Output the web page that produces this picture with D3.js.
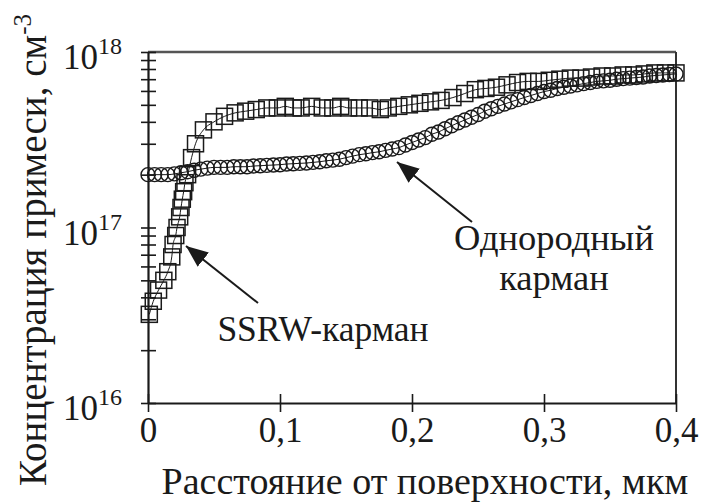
<!DOCTYPE html>
<html>
<head>
<meta charset="utf-8">
<script src="https://cdn.jsdelivr.net/npm/d3@7"></script>
<style>
  body { margin: 0; background: #fff; }
</style>
</head>
<body>
<div class="main"></div>
<script>
// SSRW pocket (squares), x in um, concentration in cm^-3
const ssrwX = [0.001, 0.004, 0.008, 0.012, 0.015, 0.018, 0.019, 0.021, 0.022, 0.024, 0.025, 0.026, 0.027, 0.028, 0.030,
  0.033, 0.036, 0.042, 0.050, 0.058, 0.066, 0.074, 0.082, 0.090, 0.098, 0.104, 0.110, 0.116, 0.124, 0.132, 0.140,
  0.146, 0.152, 0.160, 0.168, 0.176, 0.182, 0.190, 0.198, 0.206, 0.214, 0.222, 0.231, 0.240, 0.248, 0.256, 0.264,
  0.272, 0.280, 0.288, 0.296, 0.304, 0.312, 0.320, 0.328, 0.336, 0.344, 0.352, 0.360, 0.368, 0.376, 0.384, 0.392, 0.400];
const ssrwN = [0.32, 0.38, 0.44, 0.50, 0.56, 0.68, 0.80, 0.90, 1.0, 1.15, 1.3, 1.45, 1.6, 1.8, 2.0,
  2.5, 3.0, 3.6, 4.0, 4.3, 4.5, 4.6, 4.7, 4.8, 4.8, 4.9, 4.8, 4.8, 4.9, 4.8, 4.8,
  4.9, 4.8, 4.8, 4.8, 4.7, 4.8, 4.9, 5.0, 5.1, 5.2, 5.3, 5.5, 5.8, 6.1, 6.2, 6.3,
  6.5, 6.7, 6.8, 6.8, 6.9, 7.0, 7.1, 7.1, 7.2, 7.3, 7.3, 7.4, 7.4, 7.5, 7.6, 7.6, 7.6].map(v => v * 1e17);

// uniform pocket (circles)
const uniX = [0, 0.005, 0.010, 0.015, 0.020, 0.025, 0.030, 0.035, 0.040, 0.045, 0.050, 0.055, 0.060, 0.065, 0.070,
  0.075, 0.080, 0.085, 0.090, 0.095, 0.100, 0.105, 0.110, 0.115, 0.120, 0.125, 0.130, 0.135, 0.140, 0.145, 0.150,
  0.155, 0.160, 0.165, 0.170, 0.175, 0.180, 0.185, 0.190, 0.195, 0.200, 0.205, 0.210, 0.215, 0.220, 0.225, 0.230,
  0.235, 0.240, 0.245, 0.250, 0.255, 0.260, 0.265, 0.270, 0.275, 0.280, 0.285, 0.290, 0.295, 0.300, 0.305, 0.310,
  0.315, 0.320, 0.325, 0.330, 0.335, 0.340, 0.345, 0.350, 0.355, 0.360, 0.365, 0.370, 0.375, 0.380, 0.385, 0.390,
  0.395, 0.400];
const uniN = [2.0, 2.0, 2.0, 2.0, 2.02, 2.05, 2.08, 2.12, 2.15, 2.18, 2.2, 2.2, 2.2, 2.22, 2.22,
  2.22, 2.24, 2.25, 2.26, 2.27, 2.28, 2.3, 2.31, 2.32, 2.33, 2.35, 2.37, 2.4, 2.42, 2.45, 2.5,
  2.55, 2.6, 2.63, 2.67, 2.7, 2.75, 2.8, 2.85, 2.95, 3.05, 3.15, 3.25, 3.4, 3.5, 3.65, 3.8,
  3.95, 4.1, 4.25, 4.4, 4.6, 4.75, 4.9, 5.05, 5.2, 5.35, 5.5, 5.65, 5.8, 5.95, 6.05, 6.2,
  6.3, 6.4, 6.5, 6.6, 6.7, 6.8, 6.85, 6.9, 7.0, 7.05, 7.1, 7.15, 7.2, 7.3, 7.35, 7.4,
  7.45, 7.5].map(v => v * 1e17);

const xTicks = [0, 0.1, 0.2, 0.3, 0.4];
const xTickLabels = ["0", "0,1", "0,2", "0,3", "0,4"];
const yMajor = [1e16, 1e17, 1e18];
const yExponents = ["16", "17", "18"];

const xTitle = "Расстояние от поверхности, мкм";
const yTitle = "Концентрация примеси, см";
const labelSSRW = "SSRW-карман";
const labelUni = ["Однородный", "карман"];

// layout
const W = 701, H = 504;
const plot = { left: 148, right: 676, top: 52, bottom: 403 };
const ink = "#1a1a1a";
const serif = "Liberation Serif";

const x = d3.scaleLinear().domain([0, 0.4]).range([plot.left, plot.right]);
const y = d3.scaleLog().domain([1e16, 1e18]).range([plot.bottom, plot.top]);

const svg = d3.select(".main").append("svg")
    .attr("width", W)
    .attr("height", H);

// frame: top and right
svg.append("line")
    .attr("x1", plot.left).attr("x2", plot.right)
    .attr("y1", plot.top).attr("y2", plot.top)
    .attr("stroke", "#555").attr("stroke-width", 2.5);
svg.append("line")
    .attr("x1", plot.right).attr("x2", plot.right)
    .attr("y1", plot.top).attr("y2", plot.bottom)
    .attr("stroke", "#333").attr("stroke-width", 2);

// x axis, ticks crossing the line
const xAxis = d3.axisBottom(x).tickValues(xTicks).tickSize(0).tickFormat("");
const gx = svg.append("g")
    .attr("transform", "translate(0," + plot.bottom + ")")
    .call(xAxis);
gx.select(".domain").attr("stroke", ink).attr("stroke-width", 2.2);
gx.selectAll(".tick").append("line")
    .attr("y1", -9).attr("y2", 9)
    .attr("stroke", ink).attr("stroke-width", 1.6);
gx.selectAll(".tick").append("text")
    .attr("y", 39)
    .attr("text-anchor", "middle")
    .style("font-family", serif)
    .style("font-size", "35px")
    .attr("fill", ink)
    .text((d, i) => xTickLabels[i]);

// y axis, log ticks crossing the line
const yTickVals = y.ticks();
const yAxis = d3.axisLeft(y).tickValues(yTickVals).tickSize(0).tickFormat("");
const gy = svg.append("g")
    .attr("transform", "translate(" + plot.left + ",0)")
    .call(yAxis);
gy.select(".domain").attr("stroke", ink).attr("stroke-width", 2.2);
gy.selectAll(".tick line").remove();
gy.selectAll(".tick").append("line")
    .attr("x1", -7).attr("x2", 8)
    .attr("stroke", ink).attr("stroke-width", 1.6);

// y tick labels 10^n
const yLab = svg.append("g").selectAll("text").data(yMajor).enter().append("text")
    .attr("x", 122)
    .attr("y", d => y(d) + 17)
    .attr("text-anchor", "end")
    .style("font-family", serif)
    .style("font-size", "35px")
    .attr("fill", ink);
yLab.append("tspan").text("10");
yLab.append("tspan")
    .style("font-size", "24px")
    .attr("dy", -15)
    .text((d, i) => yExponents[i]);

// series lines (thin)
const pts = (xs, ns) => xs.map((v, i) => [v, ns[i]]);
const line = d3.line().x(d => x(d[0])).y(d => y(d[1])).curve(d3.curveMonotoneX);

svg.append("path")
    .datum(pts(uniX, uniN))
    .attr("d", line)
    .attr("fill", "none").attr("stroke", ink).attr("stroke-width", 1);
svg.append("path")
    .datum(pts(ssrwX, ssrwN))
    .attr("d", line)
    .attr("fill", "none").attr("stroke", ink).attr("stroke-width", 1);

// circles
svg.append("g").selectAll("circle").data(pts(uniX, uniN)).enter().append("circle")
    .attr("cx", d => x(d[0]))
    .attr("cy", d => y(d[1]))
    .attr("r", 7)
    .attr("fill", "none")
    .attr("stroke", ink)
    .attr("stroke-width", 1.4);

// squares
const sq = 16;
svg.append("g").selectAll("rect").data(pts(ssrwX, ssrwN)).enter().append("rect")
    .attr("x", d => x(d[0]) - sq / 2)
    .attr("y", d => y(d[1]) - sq / 2)
    .attr("width", sq).attr("height", sq)
    .attr("fill", "none")
    .attr("stroke", ink)
    .attr("stroke-width", 1.5);

// arrows
svg.append("defs").append("marker")
    .attr("id", "head")
    .attr("viewBox", "0 0 10 10")
    .attr("refX", 10).attr("refY", 5)
    .attr("markerWidth", 22).attr("markerHeight", 18)
    .attr("markerUnits", "userSpaceOnUse")
    .attr("orient", "auto")
    .attr("preserveAspectRatio", "none")
    .append("path").attr("d", "M0,0 L10,5 L0,10 z").attr("fill", ink);

function arrow(x1, y1, x2, y2) {
  svg.append("line")
      .attr("x1", x1).attr("y1", y1).attr("x2", x2).attr("y2", y2)
      .attr("stroke", ink).attr("stroke-width", 2)
      .attr("marker-end", "url(#head)");
}
// tail points at label, head at curve
arrow(472, 222, 397, 162);
arrow(258, 303, 186, 246);

svg.append("text")
    .attr("x", 323).attr("y", 341)
    .attr("text-anchor", "middle")
    .style("font-family", serif)
    .style("font-size", "35.5px")
    .attr("fill", ink)
    .text(labelSSRW);
svg.append("g").selectAll("text").data(labelUni).enter().append("text")
    .attr("x", 554)
    .attr("y", (d, i) => 250 + i * 40)
    .attr("text-anchor", "middle")
    .style("font-family", serif)
    .style("font-size", "36.5px")
    .attr("fill", ink)
    .text(d => d);

// axis titles
svg.append("text")
    .attr("x", 425)
    .attr("y", 494)
    .attr("text-anchor", "middle")
    .style("font-family", serif)
    .style("font-size", "38px")
    .attr("fill", ink)
    .text(xTitle);

const yt = svg.append("text")
    .attr("transform", "translate(46," + 250 + ") rotate(-90)")
    .attr("text-anchor", "middle")
    .style("font-family", serif)
    .style("font-size", "39px")
    .attr("fill", ink);
yt.append("tspan").text(yTitle);
yt.append("tspan").style("font-size", "25px").attr("dy", -15).text("-3");
</script>
</body>
</html>
